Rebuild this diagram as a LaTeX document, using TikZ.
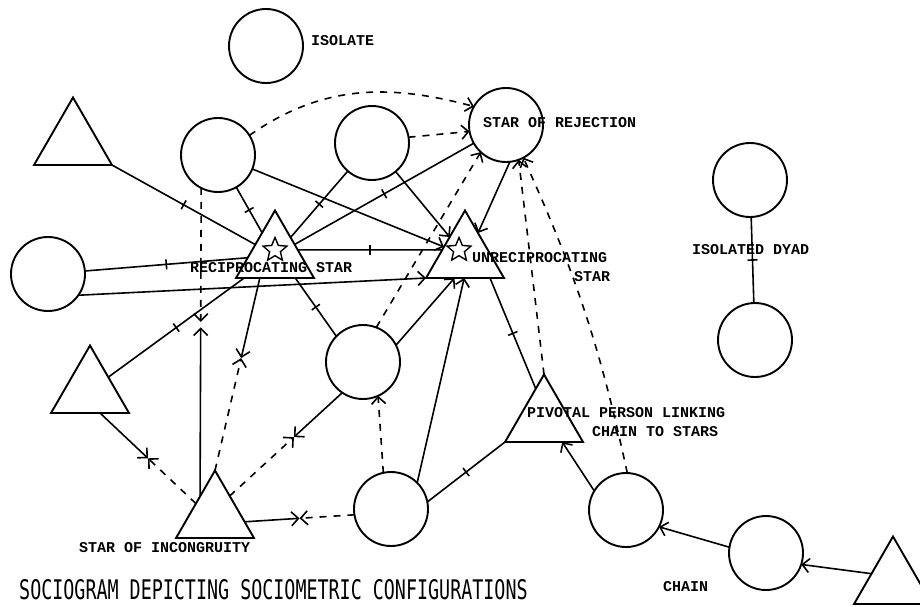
\documentclass[tikz,border=0pt]{standalone}
\usepackage{fontspec}
\usepackage{graphicx}
\setmonofont{Liberation Mono}
\newfontfamily\captionfont{DejaVu Sans Mono}
\usetikzlibrary{shapes.geometric,arrows.meta,calc,decorations.markings}

\begin{document}
\begin{tikzpicture}[x=1pt,y=-1pt,
  female/.style={circle,draw,line width=1.9pt,minimum size=74pt,inner sep=0pt,outer sep=0pt},
  male/.style={regular polygon,regular polygon sides=3,draw,line width=1.9pt,
    minimum size=90pt,inner sep=0pt,outer sep=0pt},
  starmark/.style={star,star points=5,star point ratio=2.2,draw,line width=1.4pt,
    minimum size=25pt,inner sep=0pt},
  link/.style={line width=1.6pt},
  rej/.style={line width=1.6pt,dash pattern=on 7pt off 7pt},
  barb/.style={-{Straight Barb[length=7pt,width=14pt]}},
  midtick/.style={postaction={decorate},decoration={markings,
    mark=at position 0.5 with {\draw[solid,line width=1.6pt] (0pt,-5pt) -- (0pt,5pt);}}},
  lbl/.style={font=\fontsize{15}{15}\selectfont\ttfamily\bfseries,inner sep=0pt,anchor=west},
]
\fill[white] (0,0) rectangle (920,606);
\useasboundingbox (0,0) rectangle (920,606);

% ---- girls (circles) ----
\node[female] (iso) at (266,46) {};
\node[female] (A) at (218,155) {};
\node[female] (B) at (372,143) {};
\node[female] (C) at (506,125) {};
\node[female] (D) at (48,274) {};
\node[female] (E) at (363,362) {};
\node[female] (F) at (391,509) {};
\node[female] (G) at (626,510) {};
\node[female] (H) at (766,553) {};
\node[female] (Y1) at (750,180) {};
\node[female] (Y2) at (755,340) {};

% ---- boys (triangles) ----
\node[male] (T1) at (73,142.5) {};
\node[male] (T2) at (275,255.5) {};
\node[male] (T3) at (465,255.5) {};
\node[male] (T4) at (90,390.5) {};
\node[male] (T5) at (215,515.5) {};
\node[male] (T6) at (544,419.5) {};
\node[male] (T7) at (893,581.5) {};

% stars marking the two stars
\node[starmark] (s2) at (275,250) {};
\node[starmark] (s3) at (459,250) {};

% ---- one-way choices ----
\draw[link,barb] (A) -- (T3);
\draw[link,barb] (B) -- (T3);
\draw[link,barb] (C.-84) -- (T3.60);
\draw[link,barb] (D.-35) -- (T3.corner 2);
\draw[link,barb] (E.27) -- (T3.245);
\draw[link,barb] (F.45) -- (T3.268);
\draw[link,barb] (G.149) -- (T6.-51);
\draw[link,barb] (H.171) -- (G.-27);
\draw[link,barb] (T7.160) -- (H.-18);

% ---- mutual choices ----
\draw[link,midtick] (T1.corner 3) -- (T2);
\draw[link,midtick] (A) -- (T2);
\draw[link,midtick] (B) -- (T2);
\draw[link,midtick] (T2) -- (C);
\draw[link,midtick] (D) -- (T2);
\draw[link,midtick] (T2.14) -- (T3.166);
\draw[link,midtick] (T4) -- (T2);
\draw[link,midtick] (T2.-48) -- (E.136);
\draw[link,midtick] (T6.105) -- (T3.-42);
\draw[link,midtick] (F.11) -- (T6.corner 2);
\draw[link,midtick] (Y1) -- (Y2);

% ---- rejections ----
\draw[rej,barb] (A.32) to[out=35,in=165] (C.150);
\draw[rej,barb] (B.9) -- (C.190);
\draw[rej,barb] (E.69) -- (C.227);
\draw[rej,barb] (T6.corner 1) -- (C.-70);
\draw[rej,barb] (G.88) to[bend right=6] (C.-62);
\draw[rej,barb] (F.102) -- (E.-66);

% ---- incongruent pairs: each half drawn from its own end ----
\coordinate (m1a) at ($(A.243)!0.434!(T5.128)$);
\coordinate (m1b) at ($(A.243)!0.452!(T5.128)$);
\draw[rej,barb] (A.243) -- (m1a);
\draw[link,barb] (T5.128) -- (m1b);

\coordinate (m2) at ($(T2.236)!0.416!(T5.corner 1)$);
\draw[link,barb] (T2.236) -- (m2);
\draw[rej,barb] (T5.corner 1) -- (m2);

\coordinate (m3) at ($(T4.-66)!0.5!(T5.148)$);
\draw[link,barb] (T4.-66) -- (m3);
\draw[rej,barb] (T5.148) -- (m3);

\coordinate (m4) at ($(T5.53)!0.57!(E.236)$);
\draw[rej,barb] (T5.53) -- (m4);
\draw[link,barb] (E.236) -- (m4);

\coordinate (m5) at ($(T5.-12)!0.5!(F.189)$);
\draw[link,barb] (T5.-12) -- (m5);
\draw[rej,barb] (F.189) -- (m5);

% ---- labels ----
\node[lbl] (l1) at (311,41) {ISOLATE};
\node[lbl] (l2) at (483,123) {STAR OF REJECTION};
\node[lbl] (l3) at (190,268) {RECIPROCATING STAR};
\node[lbl] (l4) at (472,258) {UNRECIPROCATING};
\node[lbl] (l5) at (574,277) {STAR};
\node[lbl] (l6) at (692,250) {ISOLATED DYAD};
\node[lbl] (l7) at (527,413) {PIVOTAL PERSON LINKING};
\node[lbl] (l8) at (592,432) {CHAIN TO STARS};
\node[lbl] (l9) at (79,548) {STAR OF INCONGRUITY};
\node[lbl] (l10) at (663,587) {CHAIN};
\node[anchor=west,inner sep=0pt] (title) at (19,590)
  {\scalebox{0.68}[1]{\captionfont\fontsize{27}{28}\selectfont SOCIOGRAM DEPICTING SOCIOMETRIC CONFIGURATIONS}};
\end{tikzpicture}
\end{document}
